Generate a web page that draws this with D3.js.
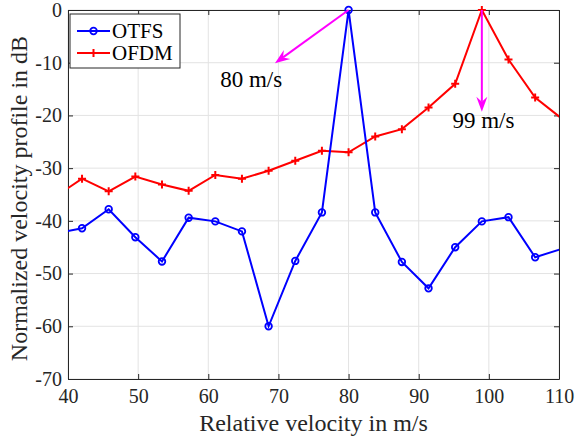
<!DOCTYPE html>
<html>
<head>
<meta charset="utf-8">
<script src="https://cdn.jsdelivr.net/npm/d3@7"></script>
<style>
  body { margin: 0; background: #fff; }
  svg { display: block; font-family: "Liberation Serif", "Times New Roman", serif; }
</style>
</head>
<body>
<svg id="chart"></svg>
<script>
// velocity grid (m/s), one bin per sample
const velocities = [38.2, 42.0, 45.8, 49.6, 53.4, 57.2, 61.0, 64.8, 68.6, 72.4,
  76.2, 80.0, 83.8, 87.6, 91.4, 95.2, 99.0, 102.8, 106.6, 110.4];
const otfsValues = [-42.4, -41.4, -37.8, -43.1, -47.7, -39.4, -40.1, -42.0, -60.0, -47.6,
  -38.4, 0, -38.4, -47.8, -52.8, -45.0, -40.1, -39.3, -46.9, -45.3];
const ofdmValues = [-35.4, -32.0, -34.4, -31.6, -33.1, -34.3, -31.3, -32.0, -30.5, -28.6,
  -26.7, -27.0, -24.0, -22.6, -18.5, -14.0, 0, -9.4, -16.6, -20.6];
const xTicks = [40, 50, 60, 70, 80, 90, 100, 110];
const yTicks = [0, -10, -20, -30, -40, -50, -60, -70];
const seriesNames = ["OTFS", "OFDM"];
const annotations = [
  { label: "80 m/s", from: [80, 0], to: [69.5, -10.1], text: [61.7, -14.6] },
  { label: "99 m/s", from: [99, 0], to: [99, -19.3], text: [94.8, -22.4] }
];

const width = 575, height = 441;
const margin = { top: 10, right: 16, bottom: 62, left: 68 };
const innerW = width - margin.left - margin.right;
const innerH = height - margin.top - margin.bottom;
const axisColor = "#262626";
const serif = "'Liberation Serif', 'Times New Roman', serif";

const svg = d3.select("#chart").attr("width", width).attr("height", height);

svg.append("defs").append("clipPath").attr("id", "plot-clip")
  .append("rect").attr("width", innerW).attr("height", innerH);

const chart = svg.append("g").attr("transform", `translate(${margin.left},${margin.top})`);

const x = d3.scaleLinear().domain([40, 110]).range([0, innerW]);
const y = d3.scaleLinear().domain([-70, 0]).range([innerH, 0]);

// grid lines
chart.append("g").selectAll("line").data(xTicks).join("line")
  .attr("x1", d => x(d)).attr("x2", d => x(d))
  .attr("y1", 0).attr("y2", innerH)
  .attr("stroke", "#e3e3e3").attr("stroke-width", 1);
chart.append("g").selectAll("line").data(yTicks).join("line")
  .attr("x1", 0).attr("x2", innerW)
  .attr("y1", d => y(d)).attr("y2", d => y(d))
  .attr("stroke", "#e3e3e3").attr("stroke-width", 1);

// axes, ticks pointing inward on all four sides
const tickLen = 5;
const styleAxis = (g) => {
  g.attr("font-family", serif);
  g.select(".domain").attr("stroke", axisColor).attr("stroke-width", 1);
  g.selectAll(".tick line").attr("stroke", axisColor);
  g.selectAll(".tick text").attr("fill", axisColor).attr("font-size", 20).style("font-family", serif);
};
chart.append("g").attr("transform", `translate(0,${innerH})`)
  .call(d3.axisBottom(x).tickValues(xTicks).tickSizeInner(-tickLen).tickSizeOuter(0).tickPadding(10))
  .call(styleAxis);
chart.append("g")
  .call(d3.axisLeft(y).tickValues(yTicks).tickSizeInner(-tickLen).tickSizeOuter(0).tickPadding(6)
    .tickFormat(d => d === 0 ? "0" : "-" + Math.abs(d)))
  .call(styleAxis);
chart.append("g")
  .call(d3.axisTop(x).tickValues(xTicks).tickSizeInner(-tickLen).tickSizeOuter(0).tickFormat(""))
  .call(styleAxis);
chart.append("g").attr("transform", `translate(${innerW},0)`)
  .call(d3.axisRight(y).tickValues(yTicks).tickSizeInner(-tickLen).tickSizeOuter(0).tickFormat(""))
  .call(styleAxis);

// axis labels
svg.append("text")
  .attr("x", margin.left + innerW / 2).attr("y", 431)
  .attr("text-anchor", "middle").attr("font-size", 24).attr("fill", axisColor)
  .text("Relative velocity in m/s");
svg.append("text")
  .attr("transform", "rotate(-90)")
  .attr("x", -(36 + 361) / 2).attr("y", 27)
  .attr("text-anchor", "middle").attr("font-size", 24).attr("fill", axisColor)
  .text("Normalized velocity profile in dB");

// series
const otfs = velocities.map((v, i) => ({ v, db: otfsValues[i] }));
const ofdm = velocities.map((v, i) => ({ v, db: ofdmValues[i] }));
const line = d3.line().x(d => x(d.v)).y(d => y(d.db));
const inside = d => d.v >= 40 && d.v <= 110;

const plot = chart.append("g").attr("clip-path", "url(#plot-clip)");

plot.append("path").datum(ofdm).attr("d", line)
  .attr("fill", "none").attr("stroke", "#ff0000").attr("stroke-width", 2);
plot.append("path").datum(otfs).attr("d", line)
  .attr("fill", "none").attr("stroke", "#0000ff").attr("stroke-width", 2);

const plusPath = (s) => `M${-s},0H${s}M0,${-s}V${s}`;

chart.append("g").selectAll("path").data(ofdm.filter(inside)).join("path")
  .attr("transform", d => `translate(${x(d.v)},${y(d.db)})`)
  .attr("d", plusPath(4)).attr("stroke", "#ff0000").attr("stroke-width", 2).attr("fill", "none");
chart.append("g").selectAll("circle").data(otfs.filter(inside)).join("circle")
  .attr("cx", d => x(d.v)).attr("cy", d => y(d.db)).attr("r", 3.3)
  .attr("fill", "none").attr("stroke", "#0000ff").attr("stroke-width", 1.8);

// magenta arrows with labels
const arrowHead = (x0, y0, x1, y1) => {
  const ang = Math.atan2(y1 - y0, x1 - x0);
  const len = 15, half = 5.5, back = 10;
  const pt = (a, b) => [x1 + a * Math.cos(ang) - b * Math.sin(ang), y1 + a * Math.sin(ang) + b * Math.cos(ang)];
  const p1 = pt(-len, half), p2 = pt(-back, 0), p3 = pt(-len, -half);
  return `M${x1},${y1}L${p1}L${p2}L${p3}Z`;
};
annotations.forEach(a => {
  const [x0, y0] = [x(a.from[0]), y(a.from[1])];
  const [x1, y1] = [x(a.to[0]), y(a.to[1])];
  const ang = Math.atan2(y1 - y0, x1 - x0);
  chart.append("line")
    .attr("x1", x0).attr("y1", y0)
    .attr("x2", x1 - 10 * Math.cos(ang)).attr("y2", y1 - 10 * Math.sin(ang))
    .attr("stroke", "#ff00ff").attr("stroke-width", 2);
  chart.append("path").attr("d", arrowHead(x0, y0, x1, y1)).attr("fill", "#ff00ff");
  chart.append("text")
    .attr("x", x(a.text[0])).attr("y", y(a.text[1]))
    .attr("font-size", 23).attr("fill", "#000")
    .text(a.label);
});

// legend
const legend = svg.append("g").attr("transform", "translate(70,14)");
legend.append("rect").attr("width", 110).attr("height", 54)
  .attr("fill", "#fff").attr("stroke", axisColor).attr("stroke-width", 1);
seriesNames.forEach((name, i) => {
  const row = legend.append("g").attr("transform", `translate(0,${17 + i * 22})`);
  const color = i === 0 ? "#0000ff" : "#ff0000";
  row.append("line").attr("x1", 7).attr("x2", 40).attr("stroke", color).attr("stroke-width", 2);
  if (i === 0) {
    row.append("circle").attr("cx", 23.5).attr("r", 3.3)
      .attr("fill", "none").attr("stroke", color).attr("stroke-width", 1.8);
  } else {
    row.append("path").attr("transform", "translate(23.5,0)").attr("d", plusPath(4))
      .attr("stroke", color).attr("stroke-width", 2);
  }
  row.append("text").attr("x", 42).attr("dy", "0.35em")
    .attr("font-size", 21).attr("fill", "#000").text(name);
});
</script>
</body>
</html>
